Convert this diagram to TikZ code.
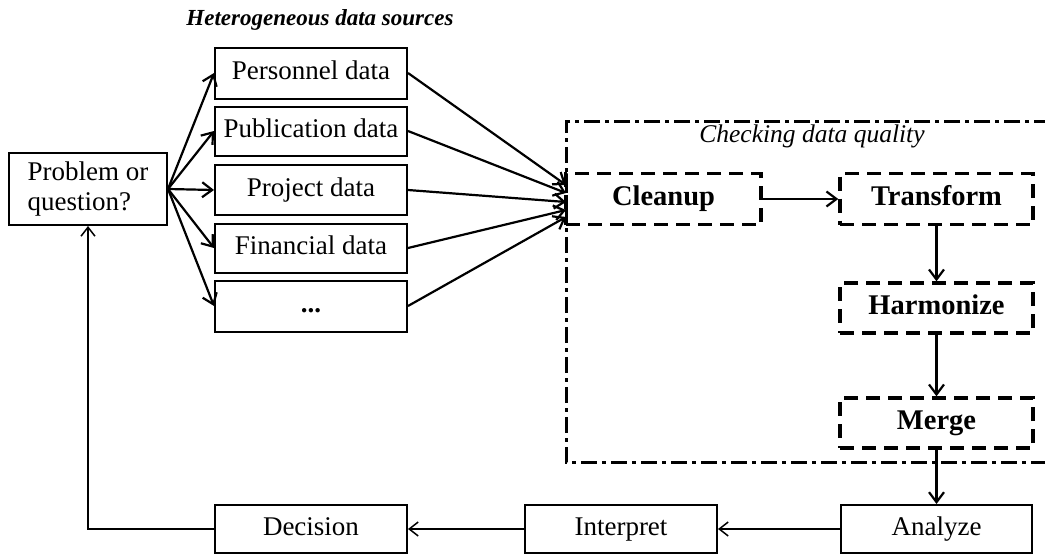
\documentclass[tikz,border=0pt]{standalone}
\usepackage{fontspec}
\setmainfont{Liberation Serif}
\usetikzlibrary{arrows.meta}
\tikzset{
  box/.style={draw, line width=2pt, minimum height=50pt, inner sep=0pt, font=\fontsize{27}{30}\selectfont},
  one/.style={text height=18pt, text depth=6pt},
  dbox/.style={draw, line width=3.4pt, dash pattern=on 14pt off 8pt, minimum height=51pt, minimum width=193pt, inner sep=0pt, text height=19pt, text depth=6pt, font=\bfseries\fontsize{28.5}{32}\selectfont},
  arr/.style={line width=2.2pt, -{Straight Barb[length=10pt,width=15pt,line width=2.2pt]}},
  thinarr/.style={line width=1.5pt, -{Straight Barb[length=9pt,width=14pt,line width=1.5pt]}},
  title/.style={font=\bfseries\itshape\fontsize{23}{26}\selectfont},
}
\begin{document}
\begin{tikzpicture}[x=1pt,y=-1pt]
\useasboundingbox (0,0) rectangle (1045,554);
% title
\node[title] (ht) at (320,20) {Heterogeneous data sources};
% problem
\node[box, minimum width=158pt, minimum height=72pt, align=left] (prob) at (88,189) {Problem or\\question?};
% data boxes
\node[box, one, minimum width=192pt, minimum height=51pt] (pers) at (311,73) {Personnel data};
\node[box, one, minimum width=192pt, minimum height=49pt] (publ) at (311,131) {Publication data};
\node[box, one, minimum width=192pt, minimum height=50pt] (proj) at (311,190) {Project data};
\node[box, one, minimum width=192pt, minimum height=49pt] (fin) at (311,248) {Financial data};
\node[box, one, minimum width=192pt, minimum height=51pt] (etc) at (311,306) {\textbf{...}};
% quality region
\coordinate (qtl) at (566,121);
\coordinate (qtr) at (1050,121);
\coordinate (qbl) at (566,462);
\coordinate (qbr) at (1050,462);
\draw[line width=3pt, dash pattern=on 16pt off 5pt on 4pt off 5pt] (qtr) -- (qtl) -- (qbl) -- (qbr);
\node[font=\itshape\fontsize{25.5}{28}\selectfont] (qt) at (812,136) {Checking data quality};
% dashed steps
\node[dbox, minimum width=195pt] (clean) at (663.5,199) {Cleanup};
\node[dbox] (trans) at (936.5,199) {Transform};
\node[dbox, minimum height=50pt] (harm) at (936.5,308) {Harmonize};
\node[dbox, minimum height=50pt] (merge) at (936.5,423) {Merge};
% bottom row
\node[box, one, minimum width=192pt, minimum height=48pt] (dec) at (311,529) {Decision};
\node[box, one, minimum width=192pt, minimum height=48pt] (interp) at (621,529) {Interpret};
\node[box, one, minimum width=191pt, minimum height=48pt] (anal) at (936.5,529) {Analyze};
% arrows problem -> data
\foreach \t in {pers,publ,proj,fin,etc}
  \draw[arr] (prob.east) -- (\t.west);
% arrows data -> cleanup
\coordinate (c1) at (566,185);
\coordinate (c2) at (566,193);
\coordinate (c3) at (566,202);
\coordinate (c4) at (566,210);
\coordinate (c5) at (566,217);
\draw[arr] (pers.east) -- (c1);
\draw[arr] (publ.east) -- (c2);
\draw[arr] (proj.east) -- (c3);
\draw[arr] (fin.east) -- (c4);
\draw[arr] (etc.east) -- (c5);
% steps
\draw[arr] (clean.east) -- (trans.west);
\draw[arr] (trans.south) -- (harm.north);
\draw[arr] (harm.south) -- (merge.north);
\draw[arr] (merge.south) -- (anal.north);
% bottom
\draw[thinarr] (anal.west) -- (interp.east);
\draw[thinarr] (interp.west) -- (dec.east);
\draw[thinarr] (dec.west) -| (prob.south);
\end{tikzpicture}
\end{document}
